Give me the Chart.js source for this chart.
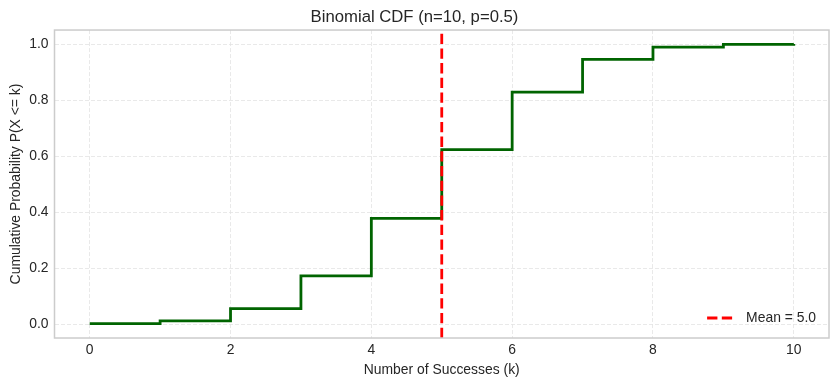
<!DOCTYPE html>
<html>
<head>
<meta charset="utf-8">
<script src="https://cdn.jsdelivr.net/npm/chart.js@4.4.0/dist/chart.umd.min.js"></script>
<style>
  html, body { margin: 0; padding: 0; background: #fff; }
  #wrap { width: 838px; height: 386px; }
</style>
</head>
<body>
<div id="wrap"><canvas id="cdfChart"></canvas></div>
<script>
const K_VALUES   = [0, 1, 2, 3, 4, 5, 6, 7, 8, 9, 10];
const CDF_VALUES = [0.001, 0.011, 0.055, 0.172, 0.377, 0.623, 0.828, 0.945, 0.989, 0.999, 1.000];
const MEAN = 5.0;
const MEAN_LABEL = 'Mean = 5.0';

const FONT = "'Liberation Sans', Arial, sans-serif";
const TEXT = '#262626';
const GRID = '#e3e3e3';

const X_MIN = -0.5, X_MAX = 10.5;
const Y_MIN = -0.05, Y_MAX = 1.05;

// frame around plot area + legend in the lower right corner
const framePlugin = {
  id: 'frame',
  afterDatasetsDraw(chart) {
    const { ctx, chartArea: a } = chart;
    ctx.save();
    ctx.strokeStyle = '#cccccc';
    ctx.lineWidth = 1.5;
    ctx.strokeRect(a.left, a.top, a.right - a.left, a.bottom - a.top);

    // legend
    const ds = chart.data.datasets[0];
    ctx.font = '13.9px ' + FONT;
    ctx.fillStyle = TEXT;
    ctx.textBaseline = 'middle';
    ctx.textAlign = 'right';
    const ty = a.bottom - 20;
    const tx = a.right - 13;
    ctx.fillText(ds.label, tx, ty);
    const tw = ctx.measureText(ds.label).width;
    const hx = tx - tw - 14;
    ctx.strokeStyle = ds.borderColor;
    ctx.lineWidth = ds.borderWidth;
    ctx.setLineDash(ds.borderDash);
    ctx.beginPath();
    ctx.moveTo(hx - 25, ty);
    ctx.lineTo(hx, ty);
    ctx.stroke();
    ctx.restore();
  }
};

new Chart(document.getElementById('cdfChart'), {
  type: 'line',
  data: {
    datasets: [
      {
        label: MEAN_LABEL,
        data: [{ x: MEAN, y: Y_MIN }, { x: MEAN, y: Y_MAX }],
        borderColor: '#ff0000',
        borderWidth: 2.8,
        borderDash: [10.3, 4.4],
        pointRadius: 0,
        order: 0
      },
      {
        label: 'CDF',
        data: K_VALUES.map((k, i) => ({ x: k, y: CDF_VALUES[i] })),
        borderColor: '#006400',
        borderWidth: 2.8,
        stepped: 'before',
        pointRadius: 0,
        order: 1
      }
    ]
  },
  options: {
    responsive: true,
    maintainAspectRatio: false,
    animation: false,
    layout: { padding: { left: 0, right: 9, top: 0, bottom: 0 } },
    plugins: {
      legend: { display: false },
      tooltip: { enabled: false },
      title: {
        display: true,
        text: 'Binomial CDF (n=10, p=0.5)',
        color: TEXT,
        font: { family: FONT, size: 16.7, weight: 'normal' },
        padding: { top: 7, bottom: 3 }
      }
    },
    scales: {
      x: {
        type: 'linear',
        min: X_MIN,
        max: X_MAX,
        afterFit: s => { s.height = 48; },
        grid: { color: GRID, lineWidth: 0.8, drawTicks: false },
        border: { display: false, dash: [4, 2] },
        ticks: {
          stepSize: 2,
          includeBounds: false,
          padding: 4,
          color: TEXT,
          font: { family: FONT, size: 13.9 },
          callback: v => String(v)
        },
        title: {
          display: true,
          text: 'Number of Successes (k)',
          color: TEXT,
          font: { family: FONT, size: 13.9 },
          padding: { top: 0, bottom: 7 }
        }
      },
      y: {
        min: Y_MIN,
        max: Y_MAX,
        afterFit: s => { s.width = 54.5; },
        grid: { color: GRID, lineWidth: 0.8, drawTicks: false },
        border: { display: false, dash: [4, 2] },
        ticks: {
          stepSize: 0.2,
          includeBounds: false,
          padding: 6,
          color: TEXT,
          font: { family: FONT, size: 13.9 },
          callback: v => Number(v).toFixed(1)
        },
        title: {
          display: true,
          text: 'Cumulative Probability P(X <= k)',
          color: TEXT,
          font: { family: FONT, size: 13.9 },
          padding: { top: 8, bottom: 0 }
        }
      }
    }
  },
  plugins: [framePlugin]
});
</script>
</body>
</html>
